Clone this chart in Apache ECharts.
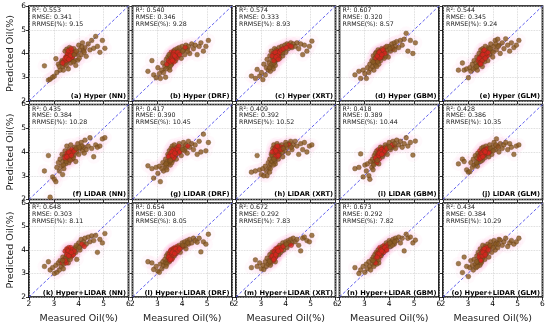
<!DOCTYPE html>
<html><head><meta charset="utf-8">
<script src="https://cdn.jsdelivr.net/npm/echarts@6/dist/echarts.min.js"></script>
<style>html,body{margin:0;padding:0;background:#fff}#c{width:550px;height:325px}</style>
</head><body><div id="c"></div>
<script>
// Measured oil (%) – same samples in every panel
const measured=[2.62,2.78,2.85,2.95,3.02,3.08,3.12,3.18,3.22,3.25,3.30,3.33,3.36,3.40,3.42,3.45,3.48,3.50,3.52,3.55,3.57,3.60,3.62,3.65,3.68,3.70,3.73,3.76,3.80,3.84,3.88,3.92,3.96,4.00,4.05,4.10,4.15,4.20,4.25,4.30,4.38,4.45,4.52,4.60,4.68,4.75,4.85,4.95,5.05,3.58,3.47,3.53,3.63,3.67,3.72,3.78,3.50,3.86,4.12,3.38,3.55,3.62,3.68,3.45,3.74,3.58,3.66,3.52,3.82,3.90,4.02,3.35,4.22,3.60,3.70];
// Predicted oil (%) per model
const predA=[3.48,2.88,2.92,3.0,3.05,3.78,3.2,3.55,3.45,3.3,3.62,3.7,3.45,3.68,3.55,4.1,3.85,3.62,4.18,3.95,3.72,4.05,3.88,4.15,3.6,4.0,3.75,3.92,4.2,3.7,3.5,3.98,3.72,4.35,4.15,3.95,4.45,4.12,4.25,3.88,4.4,4.15,4.55,4.22,4.72,4.3,4.05,4.55,4.22,3.35,3.7,3.9,4.25,3.8,4.1,3.65,3.5,4.05,4.28,3.3,4.0,3.95,4.05,3.78,3.85,4.12,3.9,3.82,3.95,4.1,3.8,3.6,4.05,3.75,4.2];
const predB=[3.25,3.7,3.1,2.98,3.4,3.15,2.95,3.3,3.6,3.2,3.45,3.0,3.75,3.5,3.85,3.62,3.4,3.9,3.7,4.05,3.55,3.95,3.75,4.1,3.85,4.15,3.7,4.0,4.2,3.9,4.25,4.05,3.8,4.3,4.15,3.95,4.35,4.2,4.3,4.0,4.4,4.2,4.35,3.95,4.3,4.45,4.1,4.3,4.55,3.6,3.95,3.5,4.0,3.65,3.95,3.8,3.3,4.1,4.25,3.55,3.8,3.9,4.05,3.7,3.85,3.75,3.95,3.65,4.05,3.95,4.1,3.35,4.1,3.7,3.9];
const predC=[3.05,2.95,3.33,3.05,3.2,2.9,3.55,3.1,3.4,3.75,3.3,3.6,3.9,3.5,4.1,3.7,3.45,4.0,3.8,4.2,3.65,3.95,4.15,3.75,4.05,3.9,4.25,3.8,4.0,4.3,3.9,4.15,4.35,4.05,4.4,4.2,4.3,4.45,4.25,4.4,4.3,4.45,4.2,4.4,3.95,4.35,4.1,4.3,4.52,3.5,3.85,3.6,3.95,4.1,3.85,4.1,3.35,4.05,4.35,3.25,3.95,3.8,4.0,3.9,4.05,4.05,3.9,3.7,4.15,4.2,4.25,3.4,4.3,3.85,3.75];
const predD=[3.1,3.25,2.95,3.3,3.15,2.95,3.4,3.2,3.55,3.35,3.7,3.45,3.9,3.6,3.8,3.5,4.05,3.7,3.95,4.15,3.75,3.9,4.1,3.7,4.0,4.2,3.85,4.05,3.8,4.25,4.0,4.15,3.85,4.3,4.1,4.4,4.2,4.45,4.3,4.5,4.25,4.55,4.35,4.6,4.85,4.1,4.55,4.0,4.45,3.55,3.8,3.65,3.95,4.1,3.95,4.1,3.45,3.9,4.25,3.3,3.85,3.8,3.9,4.0,4.15,4.0,3.85,3.9,4.0,4.3,4.2,3.65,4.15,4.05,3.95];
const predE=[3.3,3.6,3.3,3.35,2.98,3.4,3.25,3.55,3.35,3.7,3.4,3.6,3.85,3.5,3.7,4.0,3.55,3.8,4.15,3.65,3.95,4.2,3.75,4.05,3.85,4.3,3.9,4.1,3.7,4.25,3.95,4.4,4.1,3.85,4.3,4.55,4.15,4.6,4.35,4.0,4.45,4.2,4.62,4.35,4.1,4.45,4.25,4.35,4.55,3.45,3.75,3.9,4.0,3.65,4.05,3.9,3.6,4.2,4.4,3.3,3.85,4.1,3.95,3.8,4.0,3.7,4.15,3.55,4.05,4.2,4.05,3.45,4.3,3.95,3.8];
const predF=[3.2,3.85,2.1,2.95,2.85,2.75,3.35,3.55,3.2,3.7,3.4,3.9,3.6,3.3,3.8,4.05,3.65,3.85,4.25,3.7,3.95,3.55,4.1,3.8,4.3,3.9,3.7,4.05,3.85,4.2,3.6,4.0,4.35,3.9,4.15,4.4,4.05,4.2,4.5,4.1,4.25,4.6,4.15,3.8,4.3,4.2,4.25,4.55,4.6,3.75,3.5,3.95,3.85,4.0,4.1,3.75,3.6,4.1,4.25,3.45,3.8,3.7,3.95,3.75,3.95,3.9,3.65,3.8,4.05,4.15,4.2,3.05,3.95,4.0,3.85];
const predG=[3.42,3.3,2.9,3.35,3.1,3.4,2.75,3.3,3.55,3.2,3.45,3.7,3.35,3.6,3.9,3.5,4.05,3.75,3.45,4.15,3.8,4.25,3.65,4.0,4.3,3.85,4.1,3.7,4.2,3.95,4.35,4.05,3.85,4.2,4.4,4.05,4.3,3.95,4.45,4.2,4.35,4.1,4.3,3.9,4.45,4.0,4.75,4.05,4.4,3.55,3.85,3.95,4.1,3.8,4.0,4.15,3.6,4.25,4.15,3.25,3.7,3.9,4.05,3.8,3.9,4.0,3.75,3.65,4.1,4.0,4.1,3.5,4.25,3.85,3.95];
const predH=[3.15,3.2,3.85,3.25,3.05,3.3,3.0,3.4,3.2,3.0,3.55,3.35,3.7,3.5,3.9,3.6,4.15,3.75,4.3,3.95,3.6,4.2,3.85,4.35,4.05,3.7,4.25,3.9,4.1,4.3,3.8,4.2,4.05,4.4,4.2,3.95,4.35,4.45,4.1,4.3,4.45,4.25,3.9,4.35,4.1,4.4,4.0,4.25,4.3,3.5,3.85,4.05,4.15,3.8,4.0,4.2,3.45,4.0,4.3,3.3,4.1,3.95,3.9,4.0,4.15,3.8,4.25,3.7,4.1,4.15,4.3,3.15,4.2,4.05,3.85];
const predI=[3.3,3.35,3.92,2.95,3.45,3.2,3.5,3.0,2.85,3.6,3.35,3.7,3.5,3.85,3.6,3.95,3.55,4.05,3.75,3.9,4.1,3.7,4.0,4.2,3.85,4.05,3.8,4.15,3.95,4.3,4.1,3.9,4.25,4.4,4.1,4.2,4.45,4.25,4.15,4.5,4.3,4.45,4.2,4.35,4.6,4.25,4.4,3.87,4.46,3.5,3.7,3.85,4.05,3.95,4.15,4.1,3.55,4.2,4.3,3.45,3.8,3.9,4.1,3.75,3.95,3.85,4.0,3.65,4.05,4.15,4.2,3.25,4.35,3.95,3.9];
const predJ=[3.5,3.7,3.6,3.25,3.15,3.17,3.55,3.35,3.7,3.45,3.85,3.5,3.75,3.95,3.6,3.85,4.05,3.7,3.95,4.15,3.8,4.0,4.2,3.85,4.1,3.9,4.25,3.95,4.1,3.8,4.3,4.05,3.9,4.2,4.4,4.1,4.55,4.25,4.0,4.35,4.15,4.3,4.4,4.1,4.35,4.2,3.9,4.25,4.3,3.65,3.8,3.9,4.05,3.75,4.0,4.15,3.6,4.0,4.3,3.4,3.95,3.85,4.0,3.7,4.1,3.9,4.05,3.75,3.95,4.15,4.05,3.55,4.2,3.8,4.0];
const predK=[3.3,3.5,3.15,3.25,3.0,3.35,3.05,3.45,3.15,3.55,3.3,3.45,3.7,3.4,3.6,3.95,3.5,3.75,4.05,3.6,3.85,4.1,3.7,3.95,3.8,4.0,3.75,3.95,3.85,4.05,3.9,3.6,4.15,4.3,4.0,4.45,4.2,4.35,4.5,4.25,4.55,4.35,4.6,4.4,4.62,3.9,4.45,4.3,4.7,3.45,3.65,3.9,4.0,3.7,3.9,3.8,3.45,4.1,4.25,3.2,4.0,3.85,4.1,3.55,4.0,3.95,3.6,3.8,3.95,4.2,4.1,3.55,4.15,3.75,3.9];
const predL=[3.5,3.45,3.17,3.3,3.1,3.05,3.4,3.2,3.5,3.35,3.6,3.45,3.75,3.55,3.85,3.65,3.5,3.9,3.7,4.0,3.8,3.65,4.05,3.9,3.75,4.1,3.95,3.85,4.15,4.0,4.2,3.9,4.1,4.3,4.15,4.35,4.05,4.4,4.25,4.45,4.3,4.5,4.4,4.33,4.5,3.92,4.35,4.25,4.67,3.6,3.8,3.95,3.85,4.05,3.9,4.05,3.55,4.1,4.2,3.4,3.75,3.95,4.0,3.7,4.05,3.85,3.8,3.6,3.95,4.05,4.2,3.3,4.3,3.9,3.85];
const predM=[3.25,3.58,3.3,3.45,3.2,3.35,3.17,3.5,3.3,3.65,3.4,3.55,3.8,3.45,3.7,3.9,3.6,3.75,3.95,3.65,3.85,4.05,3.75,3.95,4.1,3.85,4.0,4.2,3.9,4.1,4.3,4.0,4.2,4.35,4.1,4.4,4.25,4.45,4.3,4.5,4.35,4.45,4.2,3.96,4.5,4.55,4.4,4.35,4.62,3.5,3.7,3.8,3.9,4.0,3.8,4.05,3.55,4.15,4.3,3.35,3.9,3.85,3.95,3.75,4.1,3.7,4.05,3.6,4.0,4.15,4.25,3.5,4.2,3.8,3.95];
const predN=[3.25,3.0,3.15,3.3,3.05,3.4,3.2,3.5,3.3,3.15,3.6,3.4,3.7,3.5,3.8,3.6,3.9,3.55,3.75,4.0,3.7,3.9,4.1,3.8,4.05,3.85,4.15,3.95,4.2,4.0,4.3,4.1,4.25,4.4,4.15,4.35,4.45,4.25,4.5,4.4,4.55,4.3,4.5,3.96,4.67,4.5,4.55,4.3,4.42,3.45,3.65,3.85,3.95,3.75,4.0,3.9,3.4,4.15,4.2,3.3,3.8,3.75,3.9,3.45,4.05,3.6,4.0,3.7,4.1,4.0,4.3,3.55,4.35,3.85,3.95];
const predO=[3.42,3.04,3.7,3.3,2.87,3.25,3.55,3.35,3.15,3.6,3.4,3.25,3.75,3.45,3.9,3.6,3.35,4.05,3.7,3.5,3.95,4.2,3.75,4.0,3.6,4.15,3.85,4.05,4.25,3.7,4.1,4.35,3.9,4.2,4.4,4.0,4.3,4.1,4.45,4.42,4.2,4.35,4.5,4.15,4.3,4.4,4.25,4.35,4.5,3.65,3.8,3.45,3.95,3.75,4.05,3.9,3.6,4.15,4.25,3.3,3.85,4.0,3.9,3.7,4.1,3.75,4.05,3.55,4.0,4.2,4.1,3.5,4.25,3.9,3.8];
const predictions=[predA,predB,predC,predD,predE,predF,predG,predH,predI,predJ,predK,predL,predM,predN,predO];
const panelLabels=['(a) Hyper (NN)','(b) Hyper (DRF)','(c) Hyper (XRT)','(d) Hyper (GBM)','(e) Hyper (GLM)',
 '(f) LiDAR (NN)','(g) LiDAR (DRF)','(h) LiDAR (XRT)','(i) LiDAR (GBM)','(j) LiDAR (GLM)',
 '(k) Hyper+LiDAR (NN)','(l) Hyper+LiDAR (DRF)','(m) Hyper+LiDAR (XRT)','(n) Hyper+LiDAR (GBM)','(o) Hyper+LiDAR (GLM)'];
const r2=['0.553','0.540','0.574','0.607','0.544','0.435','0.417','0.409','0.418','0.428','0.648','0.654','0.672','0.673','0.434'];
const rmse=['0.341','0.346','0.333','0.320','0.345','0.384','0.390','0.392','0.389','0.386','0.303','0.300','0.292','0.292','0.384'];
const rrmse=['9.15','9.28','8.93','8.57','9.24','10.28','10.45','10.52','10.44','10.35','8.11','8.05','7.83','7.82','10.29'];
const axisMin=2, axisMax=6, axisStep=1;

const chart=echarts.init(document.getElementById('c'),null,{renderer:'canvas'});
const FONT='DejaVu Sans';
const colLeft=[29,132.5,236,339.5,443], W=99.5;
const rowTop=[6,104.5,203], H=95;
const grids=[],xAxes=[],yAxes=[],series=[],graphics=[];
for(let p=0;p<15;p++){
  const r=Math.floor(p/5), c=p%5;
  const L=colLeft[c], T=rowTop[r];
  grids.push({left:L,top:T,width:W,height:H,show:true,borderColor:'#000',borderWidth:1.7,backgroundColor:'transparent'});
  const bottomRow=(r===2), leftCol=(c===0);
  xAxes.push({type:'value',gridIndex:p,min:axisMin,max:axisMax,interval:axisStep,
    axisLine:{show:false},axisTick:{show:true,length:3,inside:false,lineStyle:{color:'#000',width:0.8}},
    axisLabel:{show:bottomRow,fontSize:7.5,color:'#000',fontFamily:FONT,margin:3},
    splitLine:{show:true,lineStyle:{color:'#cfcfcf',type:'dotted',width:0.8}},
    name:bottomRow?'Measured Oil(%)':'',nameLocation:'middle',nameGap:17,
    nameTextStyle:{fontSize:9.5,color:'#222',fontFamily:FONT}});
  yAxes.push({type:'value',gridIndex:p,min:axisMin,max:axisMax,interval:axisStep,
    axisLine:{show:false},axisTick:{show:true,length:3,inside:false,lineStyle:{color:'#000',width:0.8}},
    axisLabel:{show:leftCol,fontSize:7.5,color:'#000',fontFamily:FONT,margin:3},
    splitLine:{show:true,lineStyle:{color:'#cfcfcf',type:'dotted',width:0.8}},
    name:leftCol?'Predicted Oil(%)':'',nameLocation:'middle',nameGap:13,
    nameTextStyle:{fontSize:9.5,color:'#222',fontFamily:FONT}});
  const pts=measured.map((m,i)=>[m,predictions[p][i]]);
  // density-based colouring (style only)
  const dens=pts.map(a=>pts.filter(b=>Math.abs(a[0]-b[0])<0.1&&Math.abs(a[1]-b[1])<0.1).length);
  series.push({type:'scatter',xAxisIndex:p,yAxisIndex:p,data:pts,symbolSize:14,silent:true,
    itemStyle:{color:'rgba(255,120,190,0.055)'},z:1});
  series.push({type:'line',xAxisIndex:p,yAxisIndex:p,data:[[axisMin,axisMin],[axisMax,axisMax]],symbol:'none',silent:true,
    lineStyle:{color:'#4b4bea',width:0.9,type:[3,2]},z:2});
  series.push({type:'scatter',xAxisIndex:p,yAxisIndex:p,data:pts.map((d,i)=>({value:d,itemStyle:{color:dens[i]>=4?'#d8261f':'#8a5a22'}})),
    symbolSize:4.8,itemStyle:{borderColor:'#5a3a15',borderWidth:0.4},z:3});
  const lines=['R\u00b2: '+r2[p],'RMSE: '+rmse[p],'RRMSE(%): '+rrmse[p]];
  lines.forEach((t,k)=>graphics.push({type:'text',x:L+3,y:T+4.5+k*6.8,z:10,
    style:{text:t,fill:'#222',font:'6.3px "DejaVu Sans"',verticalAlign:'middle',align:'left'}}));
  graphics.push({type:'text',x:L+W-2.5,y:T+H-5,z:10,
    style:{text:panelLabels[p],fill:'#000',font:'bold 6.7px "DejaVu Sans"',verticalAlign:'middle',align:'right'}});
}
chart.setOption({animation:false,grid:grids,xAxis:xAxes,yAxis:yAxes,series:series,graphic:graphics});
</script></body></html>
